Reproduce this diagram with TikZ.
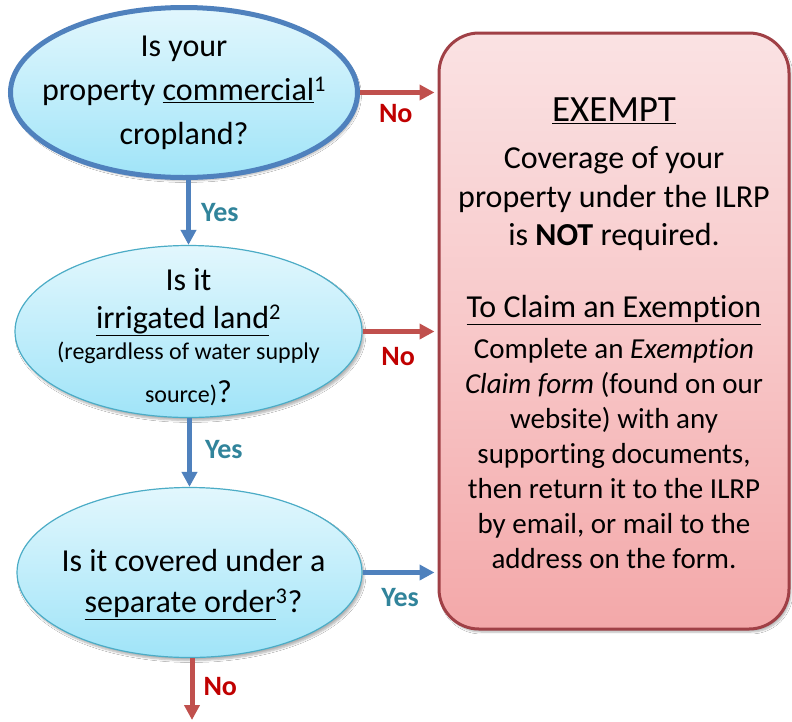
\documentclass[tikz,border=0pt]{standalone}
\usepackage{fontspec}
\setmainfont{Carlito}[Ligatures=NoCommon]
\usetikzlibrary{shapes.geometric,arrows.meta,shadows.blur}
\definecolor{qblue}{RGB}{79,129,189}
\definecolor{qteal}{RGB}{75,172,198}
\definecolor{cyantop}{RGB}{226,247,253}
\definecolor{cyanbot}{RGB}{160,228,248}
\definecolor{arred}{RGB}{192,80,77}
\definecolor{labred}{RGB}{192,0,0}
\definecolor{labteal}{RGB}{49,132,155}
\definecolor{boxline}{RGB}{160,64,70}
\definecolor{pinktop}{RGB}{250,226,227}
\definecolor{pinkmid}{RGB}{248,200,201}
\definecolor{pinkbot}{RGB}{243,168,169}
\newcommand{\bigtxt}{\fontsize{32}{36}\selectfont}
\newcommand{\smtxt}{\fontsize{24}{28}\selectfont}
\tikzset{
  question/.style={ellipse, inner xsep=-60pt, inner ysep=-30pt, align=center,
    top color=cyantop, bottom color=cyanbot,
    font=\fontsize{32}{44}\selectfont, text=black,
    blur shadow={shadow xshift=2pt, shadow yshift=-3pt, shadow blur steps=6, shadow opacity=30}},
  exbox/.style={rectangle, rounded corners=40pt, draw=boxline, line width=3pt, align=center,
    inner sep=0pt,
    top color=pinktop, bottom color=pinkbot, middle color=pinkmid,
    font=\fontsize{29}{35}\selectfont,
    blur shadow={shadow xshift=2pt, shadow yshift=-3pt, shadow blur steps=6, shadow opacity=30}},
  bluearrow/.style={draw=qblue, line width=5pt, -{Triangle[length=15pt,width=15pt]}, fill=qblue},
  redarrow/.style={draw=arred, line width=5pt, -{Triangle[length=15pt,width=15pt]}, fill=arred},
  yeslab/.style={font=\fontsize{28}{30}\selectfont\bfseries, text=labteal, inner sep=0pt},
  nolab/.style={font=\fontsize{28}{30}\selectfont\bfseries, text=labred, inner sep=0pt}
}
\begin{document}
\begin{tikzpicture}[x=1pt,y=-1pt]
\useasboundingbox (0,0) rectangle (792,721);
\fill[white] (0,0) rectangle (792,721);

\node[exbox, minimum width=350pt, minimum height=596pt] (ex) at (614,331)
  {{\fontsize{37}{36}\selectfont\rule{0pt}{29pt}\underline{EXEMPT}}\\[12pt]
   {\bigtxt Coverage of your}\\[4pt]
   {\bigtxt property under the ILRP}\\[3pt]
   {\bigtxt is \textbf{NOT} required.}\\[37pt]
   {\bigtxt \underline{To Claim an Exemption}}\\[6pt]
   Complete an \textit{Exemption}\\
   \textit{Claim form} (found on our\\
   website) with any\\
   supporting documents,\\
   then return it to the ILRP\\
   by email, or mail to the\\
   address on the form.};

\node[question, draw=qblue, line width=5pt, minimum width=347pt, minimum height=170pt] (q1) at (184,92.5)
  {Is your\\ property \underline{commercial}\textsuperscript{1}\\ cropland?};

\node[question, draw=qteal, line width=1.2pt, minimum width=347pt, minimum height=172pt] (q2) at (188.5,331.5)
  {\rule{0pt}{33pt}Is it\\[-6pt] \underline{irrigated land}\textsuperscript{2}\\[-13pt]
   {\smtxt (regardless of water supply}\\[-1pt]
   {\smtxt source)}?};

\node[question, draw=qteal, line width=1.2pt, minimum width=345pt, minimum height=170pt,
      font=\fontsize{32}{41}\selectfont] (q3) at (189.5,572.5)
  {\rule{0pt}{46pt}\hspace*{8pt}Is it covered under a\\ \hspace*{8pt}\underline{separate order}\textsuperscript{3}?};

\coordinate (end) at (192,720);

\draw[redarrow, shorten >=3pt] (q1.east) -- (q1.east -| ex.west)
  node[midway, below=9pt, xshift=-3pt, nolab] {No};
\draw[redarrow, shorten >=3pt] (q2.east) -- (q2.east -| ex.west)
  node[midway, below=13pt, xshift=-2pt, nolab] {No};
\draw[bluearrow, shorten >=3pt] (q3.east) -- (q3.east -| ex.west)
  node[midway, below=13pt, yeslab] {Yes};

\draw[bluearrow] (q1.south -| q2.north) -- (q2.north)
  node[midway, right=10pt, yeslab] {Yes};
\draw[bluearrow] (q2.south -| q3.north) -- (q3.north)
  node[midway, right=13pt, yshift=3pt, yeslab] {Yes};
\draw[redarrow] (q3.south -| end) -- (end)
  node[midway, right=9pt, yshift=3pt, nolab] {No};
\end{tikzpicture}
\end{document}
